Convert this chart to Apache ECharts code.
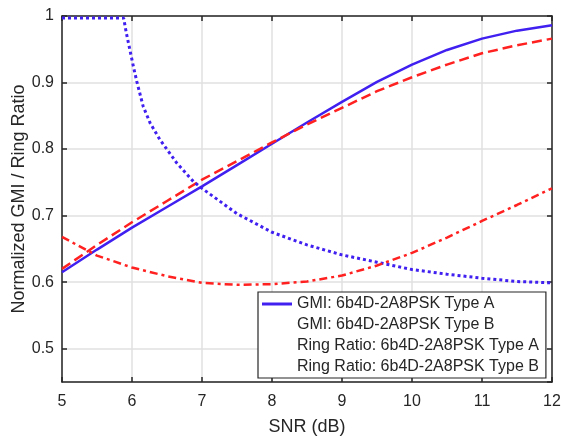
<!DOCTYPE html>
<html>
<head>
<meta charset="utf-8">
<style>
  html, body { margin: 0; padding: 0; background: #fff; }
  #chart { width: 561px; height: 436px; }
</style>
<script src="https://cdn.jsdelivr.net/npm/echarts@6/dist/echarts.min.js"></script>
</head>
<body>
<div id="chart"></div>
<script>
// SNR points for the GMI curves and Ring Ratio type B
var snr = [5, 5.5, 6, 6.5, 7, 7.5, 8, 8.5, 9, 9.5, 10, 10.5, 11, 11.5, 12];
var gmiA = [0.615, 0.649, 0.682, 0.713, 0.744, 0.776, 0.808, 0.840, 0.871, 0.901, 0.927, 0.949, 0.966, 0.978, 0.986];
var gmiB = [0.620, 0.656, 0.690, 0.722, 0.754, 0.782, 0.810, 0.837, 0.862, 0.887, 0.908, 0.927, 0.944, 0.956, 0.966];
var ringB = [0.668, 0.640, 0.622, 0.609, 0.599, 0.596, 0.597, 0.601, 0.610, 0.625, 0.644, 0.667, 0.692, 0.716, 0.741];

// ring ratio type A has a knee near 5.9 dB, so it gets its own x points
var snrRingA = [5, 5.5, 5.88, 5.92, 5.97, 6.02, 6.07, 6.16, 6.26, 6.4, 6.64, 6.88, 7, 7.5, 8, 8.5, 9, 9.5, 10, 10.5, 11, 11.5, 12];
var ringA = [0.997, 0.997, 0.997, 0.974, 0.949, 0.924, 0.901, 0.864, 0.839, 0.814, 0.779, 0.751, 0.741, 0.703, 0.675, 0.656, 0.641, 0.630, 0.619, 0.612, 0.606, 0.601, 0.599];

var names = [
    'GMI: 6b4D-2A8PSK Type A',
    'GMI: 6b4D-2A8PSK Type B',
    'Ring Ratio: 6b4D-2A8PSK Type A',
    'Ring Ratio: 6b4D-2A8PSK Type B'
];

var blue = '#4020f0';
var red = '#ff2020';
var axisColor = '#262626';
var font = 'Liberation Sans, Arial, Helvetica, sans-serif';

function pairs(xs, ys) {
    return xs.map(function (x, i) { return [x, ys[i]]; });
}

var chart = echarts.init(document.getElementById('chart'));

// top / right axes only close the box
var boxAxis = {
    axisLine: { show: true, onZero: false, lineStyle: { color: axisColor, width: 1.5 } },
    axisTick: { show: true, inside: true, length: 5, lineStyle: { color: axisColor, width: 1.5 } },
    axisLabel: { show: false },
    splitLine: { show: false }
};

var option = {
    animation: false,
    grid: { left: 62, right: 9, top: 16, bottom: 54, containLabel: false, outerBoundsMode: 'none' },
    xAxis: [
        {
            type: 'value', min: 5, max: 12, interval: 1,
            name: 'SNR (dB)', nameLocation: 'middle', nameGap: 36, nameMoveOverlap: false,
            nameTextStyle: { fontFamily: font, fontSize: 18, color: axisColor },
            axisLine: { onZero: false, lineStyle: { color: axisColor, width: 1.5 } },
            axisTick: { inside: true, length: 5, lineStyle: { color: axisColor, width: 1.5 } },
            axisLabel: { margin: 12, fontFamily: font, fontSize: 16, color: axisColor },
            splitLine: { show: true, lineStyle: { color: '#e0e0e0', width: 1.5 } }
        },
        Object.assign({ type: 'value', min: 5, max: 12, interval: 1, position: 'top' }, boxAxis)
    ],
    yAxis: [
        {
            type: 'value', min: 0.45, max: 1,
            name: 'Normalized GMI / Ring Ratio', nameLocation: 'middle', nameGap: 34, nameMoveOverlap: false,
            nameTextStyle: { fontFamily: font, fontSize: 18, color: axisColor },
            axisLine: { show: true, onZero: false, lineStyle: { color: axisColor, width: 1.5 } },
            axisTick: { show: true, inside: true, length: 5, lineStyle: { color: axisColor, width: 1.5 } },
            axisLabel: { showMinLabel: false, margin: 8, fontFamily: font, fontSize: 16, color: axisColor },
            splitLine: { show: true, lineStyle: { color: '#e0e0e0', width: 1.5 } }
        },
        Object.assign({ type: 'value', min: 0.45, max: 1, position: 'right' }, boxAxis)
    ],
    legend: {
        orient: 'vertical',
        left: 258, top: 292,
        padding: [4, 7, 3, 4],
        itemGap: 5,
        itemWidth: 30, itemHeight: 3,
        backgroundColor: '#fff',
        borderColor: axisColor, borderWidth: 1.2, borderRadius: 0,
        textStyle: { fontFamily: font, fontSize: 16, color: axisColor },
        selectedMode: false,
        data: [
            { name: names[0], icon: 'rect' },
            { name: names[1], icon: 'rect', itemStyle: { opacity: 0 } },
            { name: names[2], icon: 'rect', itemStyle: { opacity: 0 } },
            { name: names[3], icon: 'rect', itemStyle: { opacity: 0 } }
        ]
    },
    series: [
        {
            name: names[0], type: 'line', symbol: 'none', color: blue,
            lineStyle: { color: blue, width: 2.5 },
            data: pairs(snr, gmiA)
        },
        {
            name: names[1], type: 'line', symbol: 'none', color: red,
            lineStyle: { color: red, width: 2.5, type: [10, 5] },
            data: pairs(snr, gmiB)
        },
        {
            name: names[2], type: 'line', symbol: 'none', color: blue,
            lineStyle: { color: blue, width: 3, type: [3, 3] },
            data: pairs(snrRingA, ringA)
        },
        {
            name: names[3], type: 'line', symbol: 'none', color: red,
            lineStyle: { color: red, width: 2.5, type: [8, 4, 3, 4] },
            data: pairs(snr, ringB)
        }
    ]
};

chart.setOption(option);
</script>
</body>
</html>
